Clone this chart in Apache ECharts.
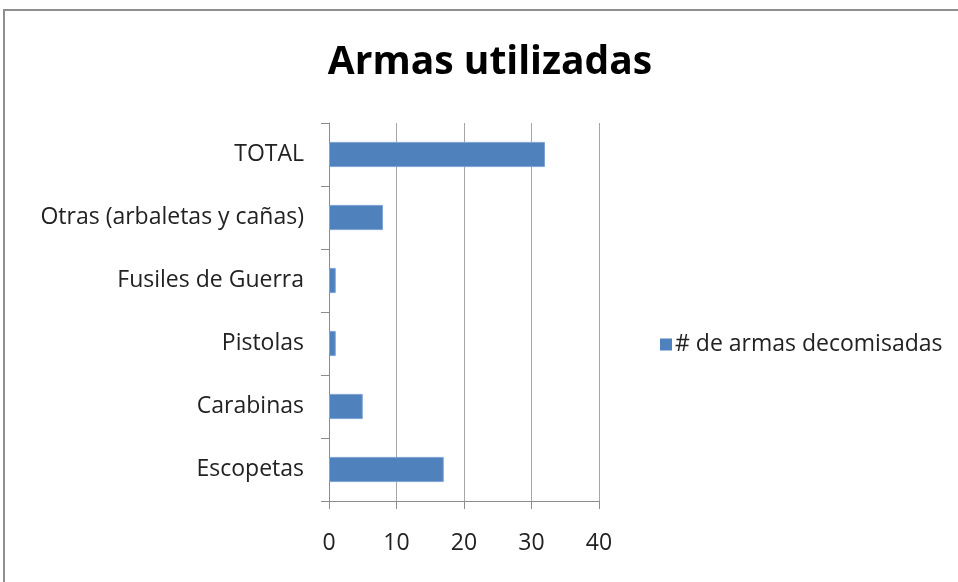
<!DOCTYPE html>
<html>
<head>
<meta charset="utf-8">
<script src="https://cdn.jsdelivr.net/npm/echarts@6/dist/echarts.min.js"></script>
<style>
    html, body { margin: 0; padding: 0; background: #fff; }
    #chart { width: 958px; height: 582px; }
</style>
</head>
<body>
<div id="chart"></div>
<script>
// Data
var categories = ['Escopetas', 'Carabinas', 'Pistolas', 'Fusiles de Guerra', 'Otras (arbaletas y cañas)', 'TOTAL'];
var armas = [17, 5, 1, 1, 8, 32];
var seriesName = '# de armas decomisadas';
var xTicks = { min: 0, max: 40, interval: 10 };

var chart = echarts.init(document.getElementById('chart'));

var fontFam = '"Open Sans", sans-serif';

var options = {
    animation: false,
    textStyle: { fontFamily: fontFam },

    // Outer frame
    graphic: [{
        type: 'rect',
        shape: { x: 4, y: 10, width: 1000, height: 700 },
        style: { fill: 'none', stroke: '#8e8e8e', lineWidth: 2 },
        silent: true
    }],

    title: {
        text: 'Armas utilizadas',
        left: 485,
        textAlign: 'center',
        top: 38,
        textStyle: { fontSize: 39, fontWeight: 'bold', color: '#000', fontFamily: fontFam }
    },

    legend: {
        data: [seriesName],
        left: 655,
        top: 328,
        itemWidth: 12,
        itemHeight: 12,
        itemGap: 6,
        icon: 'rect',
        itemStyle: { borderWidth: 0 },
        textStyle: { fontSize: 23, color: '#222', fontFamily: fontFam, padding: [0, 0, 0, -2] }
    },

    grid: { left: 329, top: 123, width: 270, height: 378, containLabel: false },

    xAxis: {
        type: 'value',
        min: xTicks.min,
        max: xTicks.max,
        interval: xTicks.interval,
        axisLine: { show: true, lineStyle: { color: '#8c8c8c', width: 1 } },
        axisTick: { show: true, length: 8, lineStyle: { color: '#8c8c8c' } },
        axisLabel: { fontSize: 23, color: '#222', margin: 31, fontFamily: fontFam },
        splitLine: { show: true, lineStyle: { color: '#a6a6a6', width: 1 } }
    },

    yAxis: {
        type: 'category',
        data: categories,
        axisLine: { show: true, lineStyle: { color: '#8c8c8c', width: 1 } },
        axisTick: { show: true, length: 8, lineStyle: { color: '#8c8c8c' } },
        axisLabel: { fontSize: 23, color: '#222', margin: 25, fontFamily: fontFam }
    },

    series: [{
        name: seriesName,
        type: 'bar',
        data: armas,
        barCategoryGap: '60%',
        itemStyle: { color: '#4f81bd', borderColor: '#7ea4d6', borderWidth: 1 }
    }]
};

chart.setOption(options);
</script>
</body>
</html>
